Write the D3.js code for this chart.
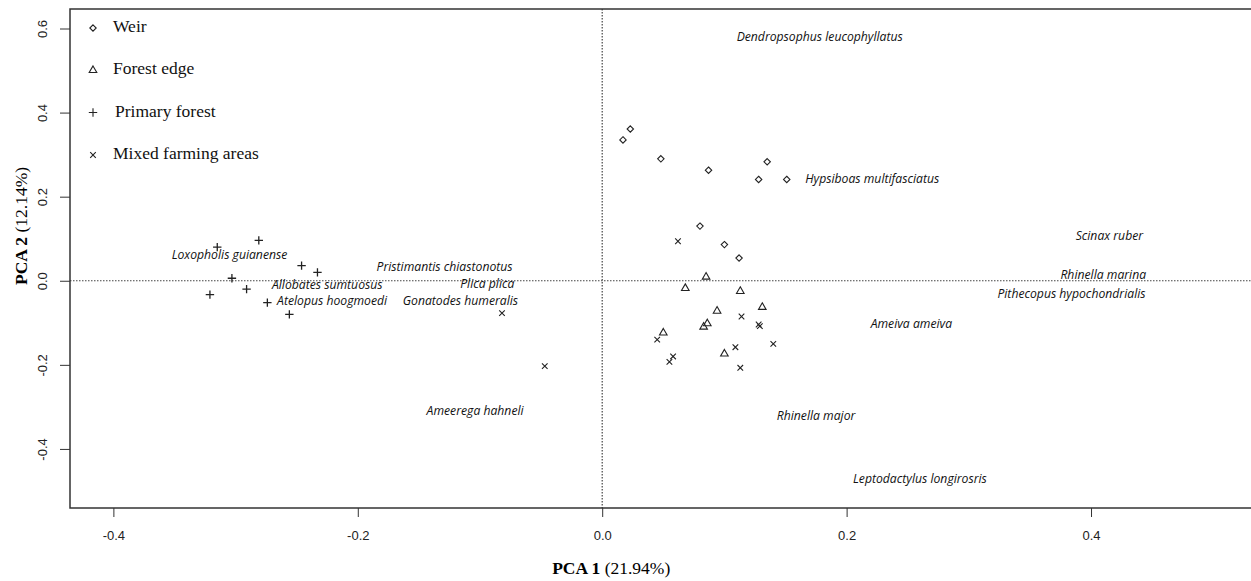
<!DOCTYPE html>
<html>
<head>
<meta charset="utf-8">
<script src="https://cdn.jsdelivr.net/npm/d3@7"></script>
<style>
  body { margin: 0; background: #fff; }
  svg { display: block; }
</style>
</head>
<body>
<div id="graph1"></div>
<script>
// PCA scores for each site group (PCA 1, PCA 2)
const weir = [
  [0.017, 0.335], [0.023, 0.361], [0.048, 0.290], [0.087, 0.263], [0.135, 0.283],
  [0.128, 0.241], [0.151, 0.241], [0.080, 0.130], [0.100, 0.086], [0.112, 0.054]
];
const forestEdge = [
  [0.085, 0.011], [0.068, -0.016], [0.113, -0.023], [0.094, -0.070], [0.131, -0.061],
  [0.086, -0.100], [0.083, -0.108], [0.050, -0.122], [0.100, -0.172]
];
const primaryForest = [
  [-0.315, 0.080], [-0.281, 0.096], [-0.246, 0.036], [-0.233, 0.020], [-0.303, 0.006],
  [-0.291, -0.020], [-0.321, -0.033], [-0.274, -0.052], [-0.256, -0.080]
];
const mixedFarming = [
  [0.062, 0.094], [0.114, -0.085], [0.129, -0.108], [0.128, -0.104], [0.140, -0.150],
  [0.109, -0.158], [0.113, -0.207], [0.045, -0.140], [0.058, -0.180], [0.055, -0.193],
  [-0.082, -0.077], [-0.047, -0.203]
];

// species labels (centre of the label, in PCA units)
const species = [
  "Dendropsophus leucophyllatus", "Hypsiboas multifasciatus", "Scinax ruber",
  "Rhinella marina", "Pithecopus hypochondrialis", "Ameiva ameiva",
  "Loxopholis guianense", "Pristimantis chiastonotus", "Allobates sumtuosus",
  "Plica plica", "Atelopus hoogmoedi", "Gonatodes humeralis",
  "Ameerega hahneli", "Rhinella major", "Leptodactylus longirosris"
];
const speciesPc1 = [0.178, 0.221, 0.415, 0.410, 0.384, 0.253, -0.305, -0.129, -0.225, -0.094, -0.221, -0.116, -0.104, 0.175, 0.260];
const speciesPc2 = [0.577, 0.241, 0.104, 0.013, -0.033, -0.104, 0.059, 0.030, -0.012, -0.010, -0.051, -0.050, -0.312, -0.324, -0.473];

const legendLabels = ["Weir", "Forest edge", "Primary forest", "Mixed farming areas"];
const xTicks = [-0.4, -0.2, 0.0, 0.2, 0.4];
const yTicks = [-0.4, -0.2, 0.0, 0.2, 0.4, 0.6];

const WIDTH = 1251, HEIGHT = 581;
const box = {left: 70, top: 9, right: 1256, bottom: 508};

let svg = d3.select("div#graph1")
  .append("svg")
  .attr("width", WIDTH)
  .attr("height", HEIGHT);

let x = d3.scaleLinear().domain([-0.4355, 0.535]).range([box.left, box.right]);
let y = d3.scaleLinear().domain([-0.5405, 0.6464]).range([box.bottom, box.top]);

// zero lines (dotted)
svg.append("line")
  .attr("x1", x(0)).attr("x2", x(0))
  .attr("y1", box.top).attr("y2", box.bottom)
  .attr("stroke", "#444").attr("stroke-width", 1.2)
  .attr("stroke-dasharray", "1.5,1.5");
svg.append("line")
  .attr("x1", box.left).attr("x2", box.right)
  .attr("y1", y(0)).attr("y2", y(0))
  .attr("stroke", "#444").attr("stroke-width", 1.2)
  .attr("stroke-dasharray", "1.5,1.5");

// frame
svg.append("rect")
  .attr("x", box.left).attr("y", box.top)
  .attr("width", box.right - box.left).attr("height", box.bottom - box.top)
  .attr("fill", "none").attr("stroke", "#333").attr("stroke-width", 1.5);

// x axis
let xAxis = svg.append("g")
  .attr("transform", `translate(0,${box.bottom})`)
  .call(d3.axisBottom(x).tickValues(xTicks).tickSize(9).tickFormat(d => d.toFixed(1)));
xAxis.select(".domain").remove();
xAxis.selectAll("line").attr("stroke", "#333");
xAxis.selectAll("text")
  .attr("y", 27).attr("dy", "0.35em")
  .style("font-family", "'Liberation Sans', Arial, sans-serif")
  .style("font-size", "13px").attr("fill", "#222");

// y axis, labels turned like R does
let yAxis = svg.append("g")
  .attr("transform", `translate(${box.left},0)`)
  .call(d3.axisLeft(y).tickValues(yTicks).tickSize(10).tickFormat(d => d.toFixed(1)));
yAxis.select(".domain").remove();
yAxis.selectAll("line").attr("stroke", "#333");
yAxis.selectAll("text")
  .attr("x", 0).attr("dy", null)
  .attr("transform", "translate(-26,0) rotate(-90)")
  .attr("dominant-baseline", "middle")
  .style("text-anchor", "middle")
  .style("font-family", "'Liberation Sans', Arial, sans-serif")
  .style("font-size", "13px").attr("fill", "#222");

// axis titles
let xTitle = svg.append("text")
  .attr("x", x(0) + 9).attr("y", 570)
  .attr("dominant-baseline", "middle")
  .style("text-anchor", "middle")
  .style("font-family", "'Liberation Serif', 'Times New Roman', serif")
  .style("font-size", "17.5px");
xTitle.append("tspan").style("font-weight", "bold").text("PCA 1 ");
xTitle.append("tspan").text("(21.94%)");

let yTitle = svg.append("text")
  .attr("transform", `translate(23,226) rotate(-90)`)
  .attr("dominant-baseline", "middle")
  .style("text-anchor", "middle")
  .style("font-family", "'Liberation Serif', 'Times New Roman', serif")
  .style("font-size", "17.5px");
yTitle.append("tspan").style("font-weight", "bold").text("PCA 2 ");
yTitle.append("tspan").text("(12.14%)");

// symbol shapes (pixel paths around 0,0)
const shapes = {
  diamond: "M0,-3.2L3.2,0L0,3.2L-3.2,0Z",
  triangle: "M0,-3.6L3.8,3L-3.8,3Z",
  plus: "M-4.2,0L4.2,0M0,-4.2L0,4.2",
  cross: "M-2.8,-2.8L2.8,2.8M-2.8,2.8L2.8,-2.8"
};

function drawGroup(data, shape, cls) {
  svg.append("g").selectAll("path." + cls)
    .data(data)
    .enter()
    .append("path")
    .attr("class", cls)
    .attr("transform", d => `translate(${x(d[0])},${y(d[1])})`)
    .attr("d", shapes[shape])
    .attr("fill", "none")
    .attr("stroke", "#222")
    .attr("stroke-width", shape == "plus" ? 1.3 : 1.1);
}

drawGroup(weir, "diamond", "weir");
drawGroup(forestEdge, "triangle", "edge");
drawGroup(primaryForest, "plus", "primary");
drawGroup(mixedFarming, "cross", "mixed");

// species names
svg.append("g").selectAll("text")
  .data(species)
  .enter()
  .append("text")
  .attr("x", (d, i) => x(speciesPc1[i]))
  .attr("y", (d, i) => y(speciesPc2[i]))
  .attr("dominant-baseline", "middle")
  .style("text-anchor", "middle")
  .style("font-family", "'Open Sans', sans-serif")
  .style("font-style", "italic")
  .style("font-size", "12.2px")
  .attr("fill", "#111")
  .text(d => d);

// legend
const legendShapes = ["diamond", "triangle", "plus", "cross"];
const legendRows = [28, 69.5, 112.5, 155];
let legend = svg.append("g");
legendLabels.forEach(function(lab, i) {
  legend.append("path")
    .attr("transform", `translate(93,${legendRows[i]})`)
    .attr("d", shapes[legendShapes[i]])
    .attr("fill", "none").attr("stroke", "#222").attr("stroke-width", 1.1);
  legend.append("text")
    .attr("x", i == 2 ? 115 : 113).attr("y", legendRows[i])
    .attr("dominant-baseline", "middle")
    .style("font-family", "'Liberation Serif', 'Times New Roman', serif")
    .style("font-size", "17.5px")
    .attr("fill", "#111")
    .text(lab);
});
</script>
</body>
</html>
